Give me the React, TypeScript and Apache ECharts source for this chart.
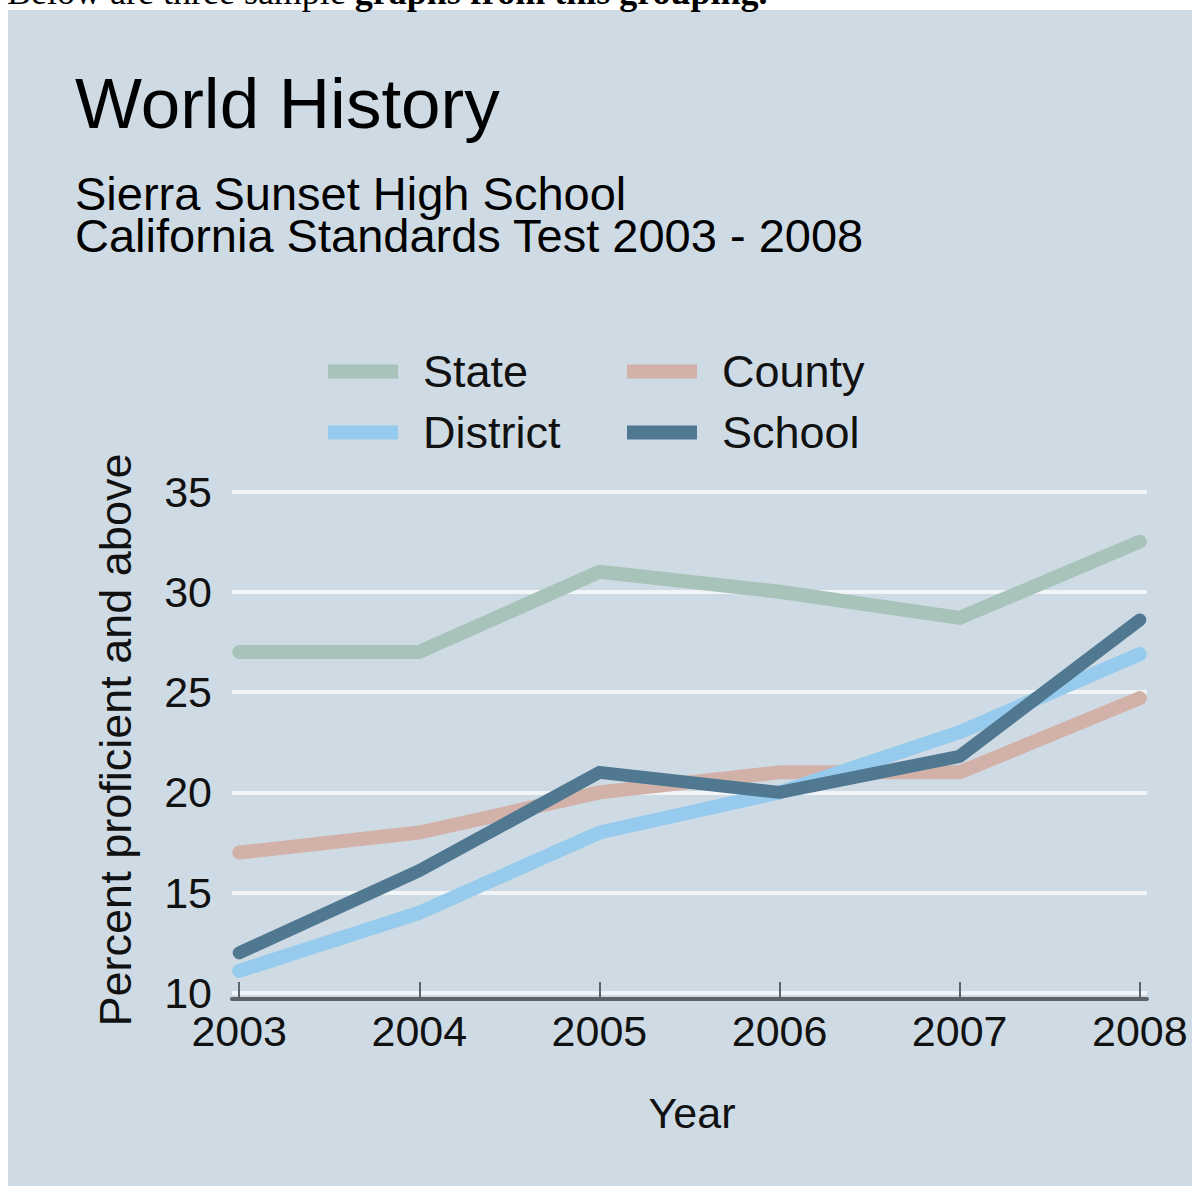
import React, { useEffect, useRef } from "react";
import * as echarts from "echarts";

const years = [2003, 2004, 2005, 2006, 2007, 2008];
const stateValues = [27, 27, 31, 30, 28.7, 32.5];
const countyValues = [17, 18, 20, 21, 21, 24.7];
const districtValues = [11.1, 14, 18, 20, 23, 26.9];
const schoolValues = [12, 16.1, 21, 20, 21.8, 28.6];
const yTicks = { min: 10, max: 35, interval: 5 };

const titleText = "World History";
const subtitleLines = ["Sierra Sunset High School", "California Standards Test 2003 - 2008"];
const yAxisTitle = "Percent proficient and above";
const xAxisTitle = "Year";

const FONT = "'Liberation Sans', Arial, sans-serif";

export default function App() {
  const ref = useRef<HTMLDivElement>(null);
  useEffect(() => {
    if (!ref.current) return;
    const chart = echarts.init(ref.current, null, { renderer: "svg" });
    const pair = (vals: number[]) => years.map((y, i) => [y, vals[i]]);
    const seriesDefs = [
      { name: "State", data: stateValues, color: "#a8c3ba", width: 14 },
      { name: "County", data: countyValues, color: "#d2b1a9", width: 14 },
      { name: "District", data: districtValues, color: "#97cbed", width: 14 },
      { name: "School", data: schoolValues, color: "#507890", width: 13 },
    ];
    const legendCommon = {
      orient: "vertical",
      top: 344,
      itemWidth: 70,
      itemHeight: 14,
      itemGap: 16,
      icon: "rect",
      textStyle: { fontSize: 45, color: "#111", fontFamily: FONT, padding: [0, 0, 0, 20] },
    };
    chart.setOption({
      animation: false,
      backgroundColor: "#ffffff",
      graphic: [
        { type: "rect", z: -10, shape: { x: 8, y: 10, width: 1184, height: 1176 }, style: { fill: "#cfdbe4" } },
        {
          type: "text",
          x: 7,
          y: -8,
          style: {
            text: "{n|Below are three sample }{b|graphs from this grouping.}",
            rich: {
              n: { fontFamily: "'Liberation Serif', serif", fontSize: 36, fill: "#000" },
              b: { fontFamily: "'Liberation Serif', serif", fontSize: 36, fontWeight: "bold", fill: "#000" },
            },
            verticalAlign: "middle",
          },
        },
        {
          type: "text",
          x: 75,
          y: 103,
          style: { text: titleText, fontFamily: FONT, fontSize: 71, fill: "#000", verticalAlign: "middle" },
        },
        {
          type: "text",
          x: 75,
          y: 193 - 21,
          style: {
            text: subtitleLines.join("\n"),
            fontFamily: FONT,
            fontSize: 47,
            lineHeight: 42,
            fill: "#000",
            verticalAlign: "top",
          },
        },
        {
          type: "text",
          x: 115,
          y: 740,
          rotation: Math.PI / 2,
          style: { text: yAxisTitle, fontFamily: FONT, fontSize: 45, fill: "#111", align: "center", verticalAlign: "middle" },
        },
        {
          type: "text",
          x: 692,
          y: 1113,
          style: { text: xAxisTitle, fontFamily: FONT, fontSize: 43, fill: "#111", align: "center", verticalAlign: "middle" },
        },
      ],
      legend: [
        { ...legendCommon, left: 323, data: ["State", "District"] },
        { ...legendCommon, left: 622, data: ["County", "School"] },
      ],
      grid: { left: 232, right: 49, top: 491.5, bottom: 193, containLabel: false },
      xAxis: {
        type: "value",
        min: 2002.96,
        max: 2008.04,
        offset: 6,
        splitLine: { show: false },
        axisLine: { show: true, lineStyle: { color: "#5c6369", width: 4 } },
        axisTick: { show: true, inside: true, length: 17, lineStyle: { color: "#5c6369", width: 2 }, customValues: years },
        axisLabel: {
          customValues: years,
          formatter: (v: number) => String(v),
          fontSize: 43,
          color: "#111",
          fontFamily: FONT,
          margin: 10,
        },
      },
      yAxis: {
        type: "value",
        min: yTicks.min,
        max: yTicks.max,
        interval: yTicks.interval,
        axisLine: { show: false },
        axisTick: { show: false },
        splitLine: { show: true, lineStyle: { color: "#f1f5f7", width: 4 } },
        axisLabel: { fontSize: 43, color: "#111", fontFamily: FONT, margin: 20 },
      },
      series: seriesDefs.map((s) => ({
        name: s.name,
        type: "line",
        data: pair(s.data),
        showSymbol: false,
        symbol: "none",
        color: s.color,
        lineStyle: { color: s.color, width: s.width, cap: "round", join: "round" },
        itemStyle: { color: s.color },
      })),
    });
    return () => chart.dispose();
  }, []);
  return <div ref={ref} style={{ position: "absolute", left: 0, top: 0, width: 1196, height: 1186 }} />;
}
